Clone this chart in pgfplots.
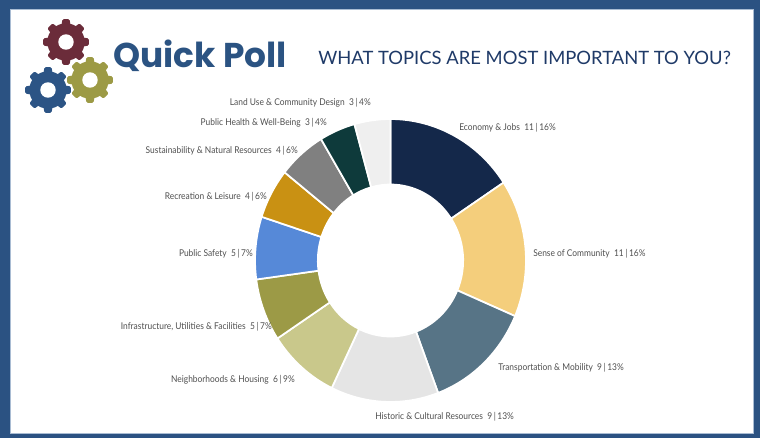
\documentclass[border=0pt]{standalone}
\usepackage{fontspec}
\setmainfont{Lato}
\newfontfamily\poppins{Poppins}
\newfontfamily\labfont{Lato}[FakeStretch=0.9]
\usepackage{pgfplots}
\usepackage{pgfplotstable}
\pgfplotsset{compat=1.18}

\definecolor{frameblue}{HTML}{2B5282}
\definecolor{framelight}{HTML}{A9BCD3}
\definecolor{qpblue}{HTML}{2B5382}
\definecolor{titleblue}{HTML}{1F3A68}
\definecolor{labelgray}{HTML}{505050}
\definecolor{gearred}{HTML}{6B2C3A}
\definecolor{gearblue}{HTML}{2C5485}
\definecolor{gearolive}{HTML}{9C9A45}
\definecolor{slice0}{HTML}{14284A}
\definecolor{slice1}{HTML}{F4CE7C}
\definecolor{slice2}{HTML}{577486}
\definecolor{slice3}{HTML}{E5E5E5}
\definecolor{slice4}{HTML}{C9C88B}
\definecolor{slice5}{HTML}{9C9A46}
\definecolor{slice6}{HTML}{5689D8}
\definecolor{slice7}{HTML}{C99113}
\definecolor{slice8}{HTML}{808080}
\definecolor{slice9}{HTML}{0E3A3B}
\definecolor{slice10}{HTML}{EFEFEF}

% poll answers, clockwise from 12 o'clock; lx/ly = label position in px
\pgfplotstableread[col sep=semicolon]{
name;votes;pct;lx;ly;side
Economy \& Jobs;11;16;459;128;west
Sense of Community;11;16;533;254;west
Transportation \& Mobility;9;13;498;368;west
Historic \& Cultural Resources;9;13;375;417;west
Neighborhoods \& Housing;6;9;295;380;east
Infrastructure, Utilities \& Facilities;5;7;272;327;east
Public Safety;5;7;253;254;east
Recreation \& Leisure;4;6;267;197;east
Sustainability \& Natural Resources;4;6;298;151;east
Public Health \& Well-Being;3;4;327;123;east
Land Use \& Community Design;3;4;371;103;east
}\polldata

\tikzset{lab/.style={font=\labfont\fontsize{7}{8}\selectfont, text=labelgray, inner sep=0pt}}

% donut radii (ellipse, px*0.75)
\def\Rx{101.6pt}\def\Ry{106.1pt}
\def\rx{54.5pt}\def\ry{57pt}

\newcommand\gear[3]{%
  \fill[#3] (#1,#2) circle[radius=14pt];
  \foreach \a in {0,45,...,315}{
    \fill[#3, rounded corners=1pt] ([shift={(\a-15:13pt)}]#1,#2) -- ([shift={(\a-9:17.3pt)}]#1,#2)
      -- ([shift={(\a+9:17.3pt)}]#1,#2) -- ([shift={(\a+15:13pt)}]#1,#2) -- cycle;}
  \fill[white] (#1,#2) circle[radius=5.8pt];}

% slice angles and label fields, computed from the table
\pgfplotstablegetrowsof{\polldata}
\pgfmathtruncatemacro\nlast{\pgfplotsretval-1}
\def\total{0}
\pgfplotsforeachungrouped \i in {0,...,\nlast}{%
  \pgfplotstablegetelem{\i}{votes}\of\polldata
  \pgfmathsetmacro\total{\total+\pgfplotsretval}}
\def\cum{0}
\pgfplotsforeachungrouped \i in {0,...,\nlast}{%
  \pgfplotstablegetelem{\i}{votes}\of\polldata
  \let\vv\pgfplotsretval
  \pgfmathsetmacro\aS{90-\cum/\total*360}%
  \pgfmathsetmacro\cum{\cum+\vv}%
  \pgfmathsetmacro\aE{90-\cum/\total*360}%
  \expandafter\xdef\csname aS\i\endcsname{\aS}%
  \expandafter\xdef\csname aE\i\endcsname{\aE}%
  \expandafter\xdef\csname v\i\endcsname{\vv}%
  \pgfplotstablegetelem{\i}{pct}\of\polldata
  \expandafter\xdef\csname p\i\endcsname{\pgfplotsretval}%
  \pgfplotstablegetelem{\i}{lx}\of\polldata
  \expandafter\xdef\csname x\i\endcsname{\pgfplotsretval}%
  \pgfplotstablegetelem{\i}{ly}\of\polldata
  \expandafter\xdef\csname y\i\endcsname{\pgfplotsretval}%
  \pgfplotstablegetelem{\i}{side}\of\polldata
  \expandafter\xdef\csname s\i\endcsname{\pgfplotsretval}%
  \pgfplotstablegetelem{\i}{name}\of\polldata
  \expandafter\xdef\csname n\i\endcsname{\pgfplotsretval}%
}

\begin{document}
\begin{tikzpicture}
\begin{axis}[
  name=ax,
  width=570pt, height=328.5pt, scale only axis,
  xmin=0, xmax=760, ymin=0, ymax=438, y dir=reverse,
  hide axis, clip=false,
]
% frame
\fill[frameblue] (axis cs:0,0) rectangle (axis cs:760,438);
\fill[white] (axis cs:10,9) rectangle (axis cs:753,433);
\draw[framelight, line width=0.7pt] (axis cs:10,9) rectangle (axis cs:753,433);

% slices
\pgfplotsinvokeforeach{0,...,10}{%
  \edef\temp{\noexpand\fill[slice#1, draw=white, line width=1.3pt, line join=round]
    ([shift={(\csname aS#1\endcsname:\Rx\space and \Ry)}]axis cs:390.5,260.5)
    arc[start angle=\csname aS#1\endcsname, end angle=\csname aE#1\endcsname, x radius=\Rx, y radius=\Ry]
    -- ([shift={(\csname aE#1\endcsname:\rx\space and \ry)}]axis cs:390.5,260.5)
    arc[start angle=\csname aE#1\endcsname, end angle=\csname aS#1\endcsname, x radius=\rx, y radius=\ry]
    -- cycle;}%
  \temp
}

% labels
\pgfplotsinvokeforeach{0,...,10}{%
  \edef\temp{\noexpand\node[lab, anchor=\csname s#1\endcsname]
    at (axis cs:\csname x#1\endcsname,\csname y#1\endcsname)
    {\csname n#1\endcsname\noexpand\ \noexpand\ \csname v#1\endcsname\noexpand\,|\noexpand\,\csname p#1\endcsname\noexpand\%};}%
  \temp
}
\end{axis}

\begin{scope}[shift={(ax.north west)}, x=0.75pt, y=-0.75pt]
  \gear{66}{42}{gearred}
  \gear{48}{90}{gearblue}
  \gear{90}{80}{gearolive}
  \node[anchor=base west, inner sep=0pt, text=qpblue,
        font=\poppins\bfseries\fontsize{25.8}{30}\selectfont] at (113,68) {Quick Poll};
  \node[anchor=base west, inner sep=0pt, text=titleblue,
        font=\fontsize{13.8}{16}\selectfont] at (318,65) {WHAT TOPICS ARE MOST IMPORTANT TO YOU?};
\end{scope}
\end{tikzpicture}
\end{document}
